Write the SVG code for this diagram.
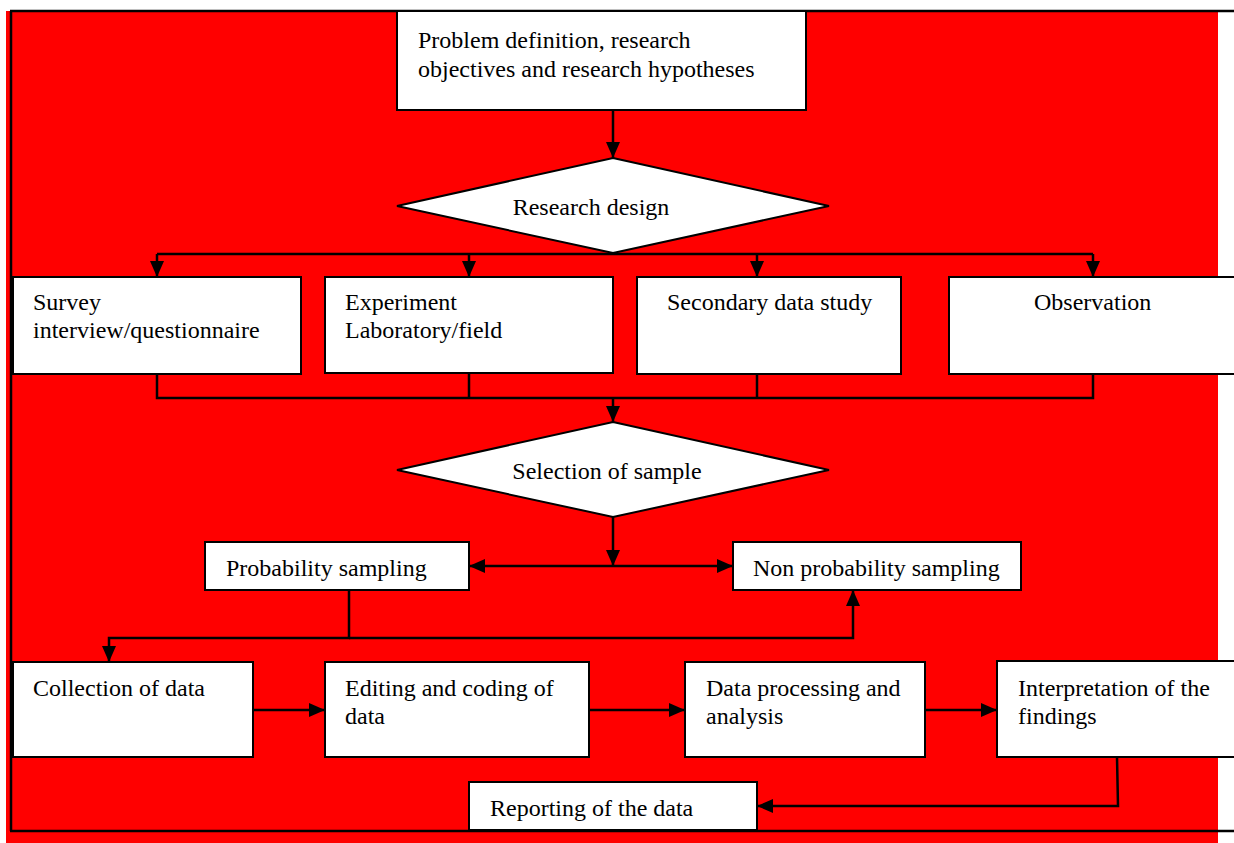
<svg xmlns="http://www.w3.org/2000/svg" width="1234" height="843" viewBox="0 0 1234 843">
<defs>
<style>
.box{fill:#fff;stroke:#000;stroke-width:2}
.ln{fill:none;stroke:#000;stroke-width:2.5}
.t{font-family:"Liberation Serif","Times New Roman",serif;font-size:24px;fill:#000}
.tc{font-family:"Liberation Serif","Times New Roman",serif;font-size:24px;fill:#000;text-anchor:middle}
</style>
<marker id="ah" markerWidth="16" markerHeight="14" refX="16" refY="7" orient="auto" markerUnits="userSpaceOnUse">
<path d="M0,0 L16,7 L0,14 Z" fill="#000"/>
</marker>
</defs>
<rect x="0" y="0" width="1234" height="843" fill="#fff"/>
<rect x="6" y="11" width="1212" height="832" fill="#ff0000"/>
<g id="frame" class="ln">
<path d="M10,11 H1234 M11,11 V831 M10,831 H1234"/>
</g>
<g id="connectors" class="ln">
<path d="M613,110 V158" marker-end="url(#ah)"/>
<path d="M157,254 H1093"/>
<path d="M157,254 V277" marker-end="url(#ah)"/>
<path d="M469,254 V277" marker-end="url(#ah)"/>
<path d="M757,254 V277" marker-end="url(#ah)"/>
<path d="M1093,254 V277" marker-end="url(#ah)"/>
<path d="M157,374 V398 H1093 V374 M469,373 V398 M757,374 V398"/>
<path d="M613,398 V422" marker-end="url(#ah)"/>
<path d="M613,517 V566" marker-end="url(#ah)"/>
<path d="M613,566 H469" marker-end="url(#ah)"/>
<path d="M613,566 H733" marker-end="url(#ah)"/>
<path d="M349,590 V638 H109 V662" marker-end="url(#ah)"/>
<path d="M349,638 H853 V590" marker-end="url(#ah)"/>
<path d="M253,710 H325" marker-end="url(#ah)"/>
<path d="M589,710 H685" marker-end="url(#ah)"/>
<path d="M925,710 H997" marker-end="url(#ah)"/>
<path d="M1117,757 L1118,806 H757" marker-end="url(#ah)"/>
</g>
<g id="n-problem">
<rect class="box" x="397" y="11" width="409" height="99"/>
<text class="t" x="418" y="48">Problem definition, research</text>
<text class="t" x="418" y="77">objectives and research hypotheses</text>
</g>
<g id="n-design">
<polygon class="box" points="613,158 829,206 613,253 397,206"/>
<text class="tc" x="591" y="215">Research design</text>
</g>
<g id="n-survey">
<rect class="box" x="13" y="277" width="288" height="97"/>
<text class="t" x="33" y="310">Survey</text>
<text class="t" x="33" y="338">interview/questionnaire</text>
</g>
<g id="n-experiment">
<rect class="box" x="325" y="277" width="288" height="96"/>
<text class="t" x="345" y="310">Experiment</text>
<text class="t" x="345" y="338">Laboratory/field</text>
</g>
<g id="n-secondary">
<rect class="box" x="637" y="277" width="264" height="97"/>
<text class="t" x="667" y="310">Secondary data study</text>
</g>
<g id="n-observation">
<rect class="box" x="949" y="277" width="300" height="97"/>
<text class="t" x="1034" y="310">Observation</text>
</g>
<g id="n-selection">
<polygon class="box" points="613,422 829,470 613,517 397,470"/>
<text class="tc" x="607" y="479">Selection of sample</text>
</g>
<g id="n-probability">
<rect class="box" x="205" y="542" width="264" height="48"/>
<text class="t" x="226" y="576">Probability sampling</text>
</g>
<g id="n-nonprobability">
<rect class="box" x="733" y="542" width="288" height="48"/>
<text class="t" x="753" y="576">Non probability sampling</text>
</g>
<g id="n-collection">
<rect class="box" x="13" y="662" width="240" height="95"/>
<text class="t" x="33" y="696">Collection of data</text>
</g>
<g id="n-editing">
<rect class="box" x="325" y="662" width="264" height="95"/>
<text class="t" x="345" y="696">Editing and coding of</text>
<text class="t" x="345" y="724">data</text>
</g>
<g id="n-processing">
<rect class="box" x="685" y="662" width="240" height="95"/>
<text class="t" x="706" y="696">Data processing and</text>
<text class="t" x="706" y="724">analysis</text>
</g>
<g id="n-interpretation">
<rect class="box" x="997" y="661" width="260" height="96"/>
<text class="t" x="1018" y="696">Interpretation of the</text>
<text class="t" x="1018" y="724">findings</text>
</g>
<g id="n-reporting">
<rect class="box" x="469" y="782" width="288" height="48"/>
<text class="t" x="490" y="816">Reporting of the data</text>
</g>
</svg>
